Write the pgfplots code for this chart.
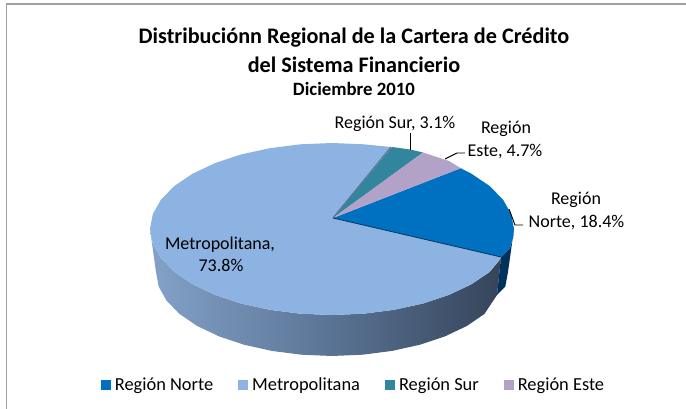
\documentclass[border=0pt]{standalone}
\usepackage{pgfplots}
\pgfplotsset{compat=1.18}
\usepackage{fontspec}
\setmainfont{Carlito}
\definecolor{cNorte}{HTML}{0070C0}
\definecolor{cMetro}{HTML}{8DB3E2}
\definecolor{cSur}{HTML}{31859C}
\definecolor{cEste}{HTML}{B2A2C7}
\definecolor{sideL}{HTML}{83A2C8}
\definecolor{sideM}{HTML}{5B7596}
\definecolor{sideR}{HTML}{35445A}
\definecolor{sideN}{HTML}{00325C}
\definecolor{frameC}{HTML}{A0A0A0}
\begin{document}
\begin{tikzpicture}
\begin{axis}[
  width=686pt,height=409pt,scale only axis,
  xmin=0,xmax=686,ymin=0,ymax=409,y dir=reverse,
  hide axis,
  clip=true,
  legend style={at={(axis cs:353.5,385)},anchor=center,draw=none,fill=none,
    legend columns=4,font=\fontsize{18.4}{21}\selectfont,
    /tikz/every even column/.append style={column sep=23pt},inner sep=0pt},
  legend image code/.code={\fill[#1] (0pt,-5pt) rectangle (10pt,5pt);\path (12pt,0pt);},
  legend cell align=left,
]
% page and frame
\addplot[draw=none,fill=white,forget plot] coordinates {(0,0)(686,0)(686,409)(0,409)} --cycle;
\addplot[frameC,line width=1.5pt,forget plot] coordinates {(6.5,409)(6.5,4)(686,4)};
% side: Metropolitana
\addplot[draw=none,left color=sideL,right color=sideR,middle color=sideM,forget plot] coordinates {
 (150,229)(152.8,243.9)(161,258.4)(174.4,272)(192.6,284.3)(215,294.9)(241,303.5)(269.8,309.8)(300.4,313.7)
 (332,315)(363.6,313.7)(394.2,309.8)(423,303.5)(449,294.9)(471.4,284.3)(489.6,272)(500,259.5)(501,257)
 (497,295)(484.4,314)(466.8,326)(445.1,336.3)(420,344.7)(392.2,350.9)(362.6,354.7)(332,356)
 (301.4,354.7)(271.8,350.9)(244,344.7)(218.9,336.3)(197.2,326)(179.6,314)(166.6,300.7)(158.7,286.6)(156,272)
} --cycle;
% side: Norte
\addplot[draw=none,fill=sideN,forget plot] coordinates {
 (501,257)(510,248)(513,238)(514,229)(508,272)(505.3,286.6)(497,295)
} --cycle;
% top faces
\addplot[draw=none,fill=cNorte] coordinates {
 (333,218)(460.7,168.2)(471.4,173.7)(489.6,186)(503,199.6)(511.2,214.1)(514,229)(513,238)(510,248)(501,257)
} --cycle;
\addlegendentry{Región Norte}
\addplot[draw=none,fill=cMetro] coordinates {
 (333,218)(501,257)(500,259.5)(489.6,272)(471.4,284.3)(449,294.9)(423,303.5)(394.2,309.8)(363.6,313.7)(332,315)
 (300.4,313.7)(269.8,309.8)(241,303.5)(215,294.9)(192.6,284.3)(174.4,272)(161,258.4)(152.8,243.9)(150,229)
 (152.8,214.1)(161,199.6)(174.4,186)(192.6,173.7)(215,163.1)(241,154.5)(269.8,148.2)(300.4,144.3)(332,143)
 (363.6,144.3)(391,147)
} --cycle;
\addlegendentry{Metropolitana}
\addplot[draw=none,fill=cSur] coordinates {
 (333,218)(392,147)(410,149.5)(423,152.5)
} --cycle;
\addlegendentry{Región Sur}
\addplot[draw=none,fill=cEste] coordinates {
 (333,218)(423,152.5)(449,161)(460.7,168.2)
} --cycle;
\addlegendentry{Región Este}
% edges of the slices
\addplot[color=sideM,line width=1.2pt,forget plot] coordinates {(333,218)(391,147)};
\addplot[color=sideN,line width=0.8pt,forget plot] coordinates {(333,218)(501,257)};
% leader lines
\addplot[black,line width=0.9pt,forget plot] coordinates {(410,133)(410,150)};
\addplot[black,line width=0.9pt,forget plot] coordinates {(465,153)(457,153)(445,159)};
\addplot[black,line width=0.9pt,forget plot] coordinates {(509,209)(515,225)(523,225)};
% texts
\node[font=\bfseries\fontsize{22.2}{26}\selectfont] at (axis cs:354,38) {Distribuciónn Regional de la Cartera de Crédito};
\node[font=\bfseries\fontsize{22.2}{26}\selectfont] at (axis cs:354,64.5) {del Sistema Financierio};
\node[font=\bfseries\fontsize{18.8}{22}\selectfont] at (axis cs:354,89) {Diciembre 2010};
\node[font=\fontsize{18}{21}\selectfont] at (axis cs:395,124) {Región Sur, 3.1\%};
\node[font=\fontsize{18}{21}\selectfont] at (axis cs:506,129) {Región};
\node[font=\fontsize{18}{21}\selectfont] at (axis cs:505,152) {Este, 4.7\%};
\node[font=\fontsize{18}{21}\selectfont] at (axis cs:576,200) {Región};
\node[font=\fontsize{18}{21}\selectfont] at (axis cs:576.5,223) {Norte, 18.4\%};
\node[font=\fontsize{18}{21}\selectfont] at (axis cs:220,245) {Metropolitana,};
\node[font=\fontsize{18}{21}\selectfont] at (axis cs:221,265) {73.8\%};
\end{axis}
\end{tikzpicture}
\end{document}
